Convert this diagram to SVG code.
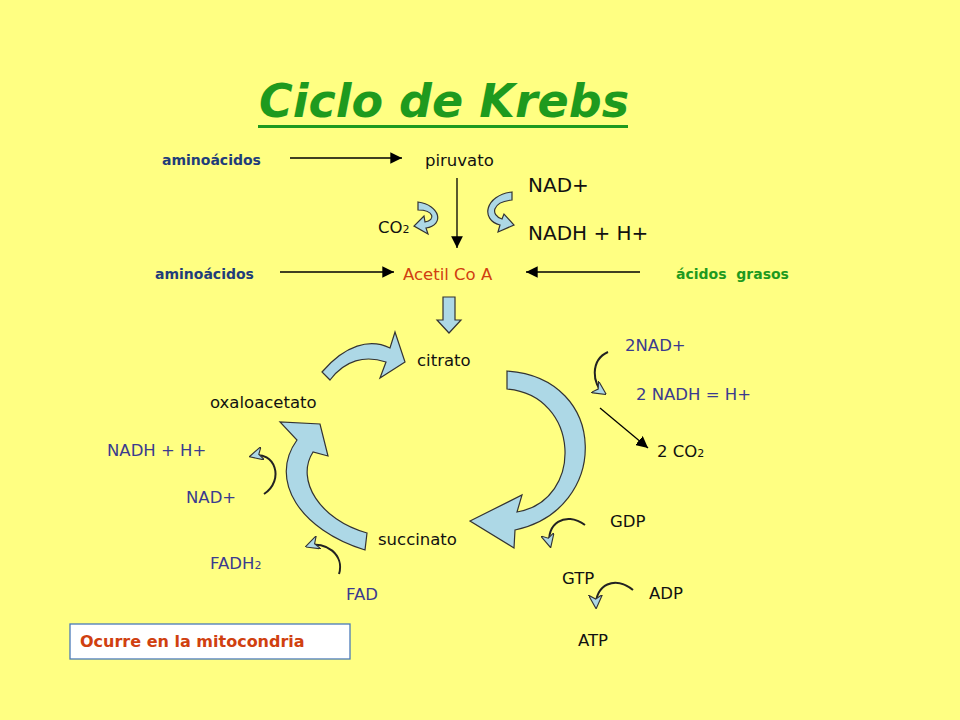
<svg xmlns="http://www.w3.org/2000/svg" width="960" height="720" viewBox="0 0 960 720">
<defs>
<style>
text{font-family:"DejaVu Sans","Noto Sans",sans-serif;}
.k{fill:#111;font-size:16.5px}
.n{fill:#3b3b8f;font-size:16.5px}
.b{font-weight:bold;font-size:14px}
.big{fill:#add8e6;stroke:#333;stroke-width:1.2}
.ln{stroke:#000;stroke-width:1.3;fill:none}
.cv{stroke:#222;stroke-width:2;fill:none}
</style>
<marker id="ah" viewBox="0 0 10 10" refX="10" refY="5" markerWidth="9" markerHeight="9" orient="auto"><path d="M0,0 L10,5 L0,10 Z" fill="#000"/></marker>
<marker id="bh" viewBox="0 0 10 10" refX="8" refY="5" markerWidth="7" markerHeight="7" orient="auto"><path d="M0,0 L10,5 L0,10 L3,5 Z" fill="#add8e6" stroke="#333" stroke-width="0.8"/></marker>
</defs>
<rect width="960" height="720" fill="#ffff82"/>
<g id="title"><text x="444" y="117" text-anchor="middle" font-size="46" font-weight="bold" font-style="italic" fill="#1e9a1e">Ciclo de Krebs</text><rect x="258" y="125" width="370" height="3" fill="#1e9a1e"/></g>
<g id="connectors">
<line class="ln" x1="290" y1="158" x2="402" y2="158" marker-end="url(#ah)"/>
<line class="ln" x1="457" y1="178" x2="457" y2="248" marker-end="url(#ah)"/>
<line class="ln" x1="280" y1="272" x2="394" y2="272" marker-end="url(#ah)"/>
<line class="ln" x1="640" y1="272" x2="526" y2="272" marker-end="url(#ah)"/>
<line class="ln" x1="600" y1="408" x2="648" y2="448" marker-end="url(#ah)"/>
<path class="big" d="M418,202 C440,205 445,225 426,228 L428,234 L414,226 L424,216 L425,222 C436,220 434,210 418,210 Z"/>
<path class="big" d="M512,192 C485,195 480,220 500,225 L498,232 L514,225 L504,214 L502,219 C490,215 492,202 512,200 Z"/>
<path class="big" d="M443,297 L455,297 L455,320 L461,320 L449,333 L437,320 L443,320 Z"/>
<path class="big" d="M507,371 C610,378 610,510 515,530 L514,548 L470,521 L522,495 L517,512 C585,500 580,395 507,389 Z"/>
<path class="big" d="M367,533 C320,520 295,480 313,452 L328,456 L320,424 L280,422 L297,440 C268,480 300,530 365,550 Z"/>
<path class="big" d="M322,372 C345,345 370,338 390,348 L395,332 L405,362 L380,378 L386,362 C365,355 345,360 330,380 Z"/>
<path class="cv" d="M608,352 C590,360 592,385 604,393" marker-end="url(#bh)"/>
<path class="cv" d="M585,525 C565,510 545,525 550,545" marker-end="url(#bh)"/>
<path class="cv" d="M633,590 C615,575 595,585 596,606" marker-end="url(#bh)"/>
<path class="cv" d="M264,494 C285,480 275,450 252,456" marker-end="url(#bh)"/>
<path class="cv" d="M339,574 C345,555 325,540 308,546" marker-end="url(#bh)"/>
</g>
<g id="n-amino1"><text class="b" x="162" y="165" fill="#1f3d7a">aminoácidos</text></g>
<g id="n-piruvato"><text class="k" x="425" y="166">piruvato</text></g>
<g id="n-nad"><text class="k" x="528" y="192" style="font-size:20px">NAD+</text><text class="k" x="528" y="240" style="font-size:20px">NADH + H+</text></g>
<g id="n-co2"><text class="k" x="378" y="233">CO<tspan font-size="11">2</tspan></text></g>
<g id="n-amino2"><text class="b" x="155" y="279" fill="#1f3d7a">aminoácidos</text></g>
<g id="n-acetil"><text x="403" y="280" font-size="16.5" fill="#d04010">Acetil Co A</text></g>
<g id="n-acidos"><text class="b" x="676" y="279" fill="#1e9a1e" xml:space="preserve">ácidos  grasos</text></g>
<g id="n-citrato"><text class="k" x="417" y="366">citrato</text></g>
<g id="n-oxalo"><text class="k" x="210" y="408">oxaloacetato</text></g>
<g id="n-succinato"><text class="k" x="378" y="545">succinato</text></g>
<g id="n-2nad"><text class="n" x="625" y="351">2NAD+</text><text class="n" x="636" y="400">2 NADH = H+</text></g>
<g id="n-2co2"><text class="k" x="657" y="457">2 CO<tspan font-size="11">2</tspan></text></g>
<g id="n-gdp"><text class="k" x="610" y="527">GDP</text><text class="k" x="562" y="584">GTP</text><text class="k" x="649" y="599">ADP</text><text class="k" x="578" y="646">ATP</text></g>
<g id="n-nadh"><text class="n" x="107" y="456">NADH + H+</text><text class="n" x="186" y="503">NAD+</text></g>
<g id="n-fad"><text class="n" x="210" y="569">FADH<tspan font-size="11">2</tspan></text><text class="n" x="346" y="600">FAD</text></g>
<g id="n-box"><rect x="70" y="624" width="280" height="35" fill="#fff" stroke="#4a7ab8" stroke-width="1.3"/><text x="80" y="647" font-size="16" font-weight="bold" fill="#d04010">Ocurre en la mitocondria</text></g>
</svg>
